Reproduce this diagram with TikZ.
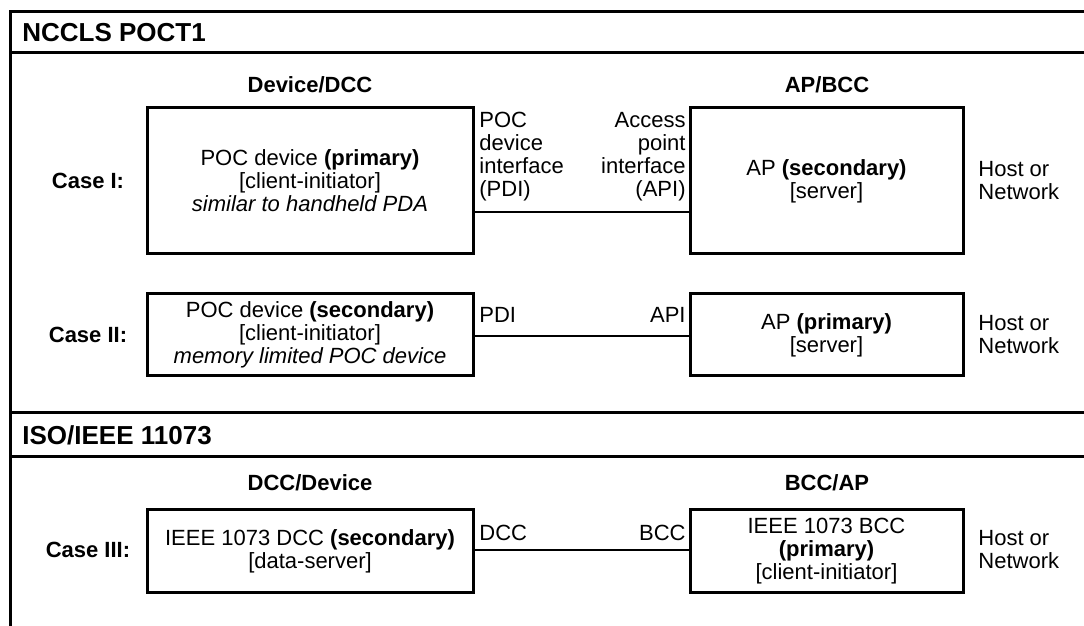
\documentclass[tikz,border=0pt]{standalone}
\usepackage{fontspec}
\setmainfont{Liberation Sans}
\tikzstyle{frame} = [line width=1.5pt]
\tikzstyle{header} = [anchor=west, inner sep=0pt, font=\fontsize{13}{15}\selectfont\bfseries]
\tikzstyle{title} = [inner sep=0pt, font=\fontsize{11}{13}\selectfont\bfseries]
\tikzstyle{case} = [inner sep=0pt, font=\fontsize{11}{13}\selectfont\bfseries]
\tikzstyle{box} = [draw, line width=1.5pt, align=center, inner sep=0pt, font=\fontsize{11}{11.5}\selectfont]
\tikzstyle{devbox} = [box, minimum width=163pt]
\tikzstyle{apbox} = [box, minimum width=136.5pt]
\tikzstyle{lbl} = [inner sep=0pt, font=\fontsize{11}{11.5}\selectfont]
\tikzstyle{host} = [lbl, anchor=west, align=left]
\tikzstyle{link} = [line width=1.2pt]

\begin{document}
\begin{tikzpicture}[x=0.5pt, y=-0.5pt]
	\useasboundingbox (0,0) rectangle (1084,626);
	\draw[frame] (1090,12) -- (10,12) -- (10,630);
	\draw[frame] (10,53) -- (1090,53);
	\draw[frame] (10,413) -- (1090,413);
	\draw[frame] (10,457) -- (1090,457);
	\node[header](nccls) at (22,33){NCCLS POCT1};
	\node[header](iso) at (22,435){ISO/IEEE 11073};

	\node[title](devdcc) at (310,85){Device/DCC};
	\node[title](apbcc) at (827,85){AP/BCC};
	\node[title](dccdev) at (310,483){DCC/Device};
	\node[title](bccap) at (827,483){BCC/AP};

	% case I
	\node[case](case1) at (88,181){Case I:};
	\node[devbox, minimum height=73pt](dev1) at (310,181){POC device \textbf{(primary)}\\{[client-initiator]}\\\textit{similar to handheld PDA}};
	\node[apbox, minimum height=73pt](ap1) at (826.5,181){AP \textbf{(secondary)}\\{[server]}};
	\node[host](host1) at (978,181){Host or\\Network};
	\node[lbl, anchor=north west, align=left](pdi1) at (479,112){POC\\device\\interface\\(PDI)};
	\node[lbl, anchor=north east, align=right](api1) at (686,112){Access\\point\\interface\\(API)};
	\coordinate (y1) at (0,212);
	\draw[link](dev1.east |- y1) -- (ap1.west |- y1);

	% case II
	\node[case](case2) at (88,335){Case II:};
	\node[devbox, minimum height=41pt](dev2) at (310,335){POC device \textbf{(secondary)}\\{[client-initiator]}\\\textit{memory limited POC device}};
	\node[apbox, minimum height=41pt](ap2) at (826.5,335){AP \textbf{(primary)}\\{[server]}};
	\node[host](host2) at (978,335){Host or\\Network};
	\node[lbl, anchor=base west](pdi2) at (479,322){PDI};
	\node[lbl, anchor=base east](api2) at (686,322){API};
	\coordinate (y2) at (0,336);
	\draw[link](dev2.east |- y2) -- (ap2.west |- y2);

	% case III
	\node[case](case3) at (88,550){Case III:};
	\node[devbox, minimum height=41pt](dev3) at (310,551){IEEE 1073 DCC \textbf{(secondary)}\\{[data-server]}};
	\node[apbox, minimum height=41pt](ap3) at (826.5,551){IEEE 1073 BCC\\\textbf{(primary)}\\{[client-initiator]}};
	\node[host](host3) at (978,550){Host or\\Network};
	\node[lbl, anchor=base west](dcc3) at (479,540){DCC};
	\node[lbl, anchor=base east](bcc3) at (686,540){BCC};
	\coordinate (y3) at (0,550);
	\draw[link](dev3.east |- y3) -- (ap3.west |- y3);
\end{tikzpicture}
\end{document}
